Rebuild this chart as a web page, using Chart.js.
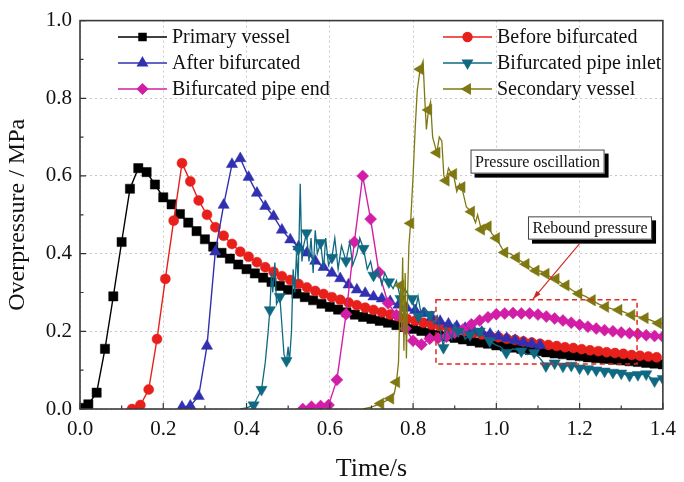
<!DOCTYPE html>
<html lang="en">
<head>
<meta charset="UTF-8">
<title>Overpressure vs time</title>
<script src="https://cdn.jsdelivr.net/npm/chart.js"></script>
<style>
  html, body { margin: 0; padding: 0; background: #fff; }
  #wrap { width: 684px; height: 482px; }
</style>
</head>
<body>
<div id="wrap"><canvas id="chartCanvas" width="684" height="482"></canvas></div>
<script>
// axis ticks
const xTicks = [0, 0.2, 0.4, 0.6, 0.8, 1.0, 1.2, 1.4];
const yTicks = [0, 0.2, 0.4, 0.6, 0.8, 1.0];
const xMinor = [0.1, 0.3, 0.5, 0.7, 0.9, 1.1, 1.3];
const yMinor = [0.1, 0.3, 0.5, 0.7, 0.9];

// Primary vessel
const primaryT = [0, 0.02, 0.04, 0.06, 0.08, 0.10, 0.12, 0.14, 0.16, 0.18, 0.20, 0.22, 0.24, 0.26, 0.28, 0.30,
  0.32, 0.34, 0.36, 0.38, 0.40, 0.42, 0.44, 0.46, 0.48, 0.50, 0.52, 0.54, 0.56, 0.58, 0.60, 0.62, 0.64, 0.66,
  0.68, 0.70, 0.72, 0.74, 0.76, 0.78, 0.80, 0.82, 0.84, 0.86, 0.88, 0.90, 0.92, 0.94, 0.96, 0.98, 1.00, 1.02,
  1.04, 1.06, 1.08, 1.10, 1.12, 1.14, 1.16, 1.18, 1.20, 1.22, 1.24, 1.26, 1.28, 1.30, 1.32, 1.34, 1.36, 1.38, 1.40];
const primaryP = [0.003, 0.012, 0.042, 0.155, 0.29, 0.43, 0.567, 0.62, 0.61, 0.578, 0.545, 0.527, 0.502, 0.48, 0.458, 0.437,
  0.418, 0.402, 0.387, 0.372, 0.36, 0.349, 0.338, 0.327, 0.317, 0.307, 0.297, 0.288, 0.28, 0.271, 0.263, 0.256, 0.249, 0.243,
  0.237, 0.232, 0.227, 0.222, 0.216, 0.211, 0.206, 0.201, 0.196, 0.191, 0.187, 0.183, 0.179, 0.175, 0.171, 0.168, 0.164, 0.161,
  0.158, 0.155, 0.152, 0.149, 0.146, 0.143, 0.141, 0.138, 0.136, 0.133, 0.131, 0.129, 0.127, 0.125, 0.123, 0.121, 0.119, 0.117, 0.115];

// Before bifurcated
const beforeT = [0.125, 0.145, 0.165, 0.185, 0.205, 0.225, 0.245, 0.265, 0.285, 0.305, 0.325, 0.345, 0.365, 0.385, 0.405,
  0.425, 0.445, 0.465, 0.485, 0.505, 0.525, 0.545, 0.565, 0.585, 0.605, 0.625, 0.645, 0.665, 0.685, 0.705, 0.725, 0.745,
  0.765, 0.785, 0.805, 0.825, 0.845, 0.865, 0.885, 0.905, 0.925, 0.945, 0.965, 0.985, 1.005, 1.025, 1.045, 1.065, 1.085,
  1.105, 1.125, 1.145, 1.165, 1.185, 1.205, 1.225, 1.245, 1.265, 1.285, 1.305, 1.325, 1.345, 1.365, 1.385];
const beforeP = [0.0, 0.01, 0.05, 0.18, 0.335, 0.485, 0.633, 0.586, 0.537, 0.50, 0.468, 0.446, 0.425, 0.405, 0.392,
  0.378, 0.365, 0.353, 0.342, 0.332, 0.322, 0.313, 0.304, 0.296, 0.288, 0.281, 0.274, 0.267, 0.261, 0.255, 0.249, 0.243,
  0.238, 0.232, 0.227, 0.222, 0.217, 0.213, 0.208, 0.204, 0.2, 0.196, 0.192, 0.188, 0.185, 0.181, 0.178, 0.174, 0.171,
  0.168, 0.165, 0.162, 0.159, 0.157, 0.154, 0.151, 0.149, 0.146, 0.144, 0.142, 0.139, 0.137, 0.135, 0.133];

// After bifurcated
const afterT = [0.245, 0.265, 0.285, 0.305, 0.325, 0.345, 0.365, 0.385, 0.405, 0.425, 0.445, 0.465, 0.485, 0.505,
  0.525, 0.545, 0.565, 0.585, 0.605, 0.625, 0.645, 0.665, 0.685, 0.705, 0.725, 0.745, 0.765, 0.785, 0.805, 0.825,
  0.845, 0.865, 0.885, 0.905, 0.925, 0.945, 0.965, 0.985, 1.005, 1.025, 1.045, 1.065, 1.085, 1.105];
const afterP = [0.005, 0.008, 0.033, 0.162, 0.405, 0.525, 0.63, 0.645, 0.597, 0.556, 0.522, 0.496, 0.461, 0.436,
  0.418, 0.402, 0.381, 0.365, 0.35, 0.336, 0.32, 0.307, 0.298, 0.289, 0.284, 0.277, 0.268, 0.26, 0.254, 0.246,
  0.236, 0.226, 0.219, 0.213, 0.208, 0.203, 0.198, 0.193, 0.187, 0.182, 0.177, 0.172, 0.168, 0.164];

// Bifurcated pipe end
const endT = [0.535, 0.556, 0.578, 0.597, 0.617, 0.639, 0.659, 0.679, 0.698, 0.718, 0.74, 0.76, 0.782, 0.80, 0.82,
  0.84, 0.86, 0.88, 0.90, 0.92, 0.94, 0.96, 0.98, 1.00, 1.02, 1.04, 1.06, 1.08, 1.10, 1.12, 1.14, 1.16, 1.18,
  1.20, 1.22, 1.24, 1.26, 1.28, 1.30, 1.32, 1.34, 1.36, 1.38, 1.40];
const endP = [0.0, 0.006, 0.008, 0.01, 0.075, 0.244, 0.43, 0.60, 0.489, 0.352, 0.272, 0.242, 0.207, 0.176, 0.166,
  0.181, 0.182, 0.186, 0.196, 0.205, 0.218, 0.228, 0.236, 0.244, 0.246, 0.247, 0.246, 0.246, 0.243, 0.238, 0.233, 0.228, 0.222,
  0.217, 0.212, 0.207, 0.203, 0.2, 0.197, 0.195, 0.193, 0.19, 0.188, 0.186];

// Bifurcated pipe inlet: noisy trace and its markers
const inletLineT = [0.385, 0.40, 0.417, 0.436, 0.445, 0.452, 0.456, 0.46, 0.463, 0.468, 0.472, 0.48, 0.486, 0.49, 0.496,
  0.50, 0.503, 0.508, 0.512, 0.516, 0.52, 0.524, 0.529, 0.533, 0.537, 0.544, 0.55, 0.555, 0.56, 0.565, 0.57, 0.578,
  0.585, 0.59, 0.597, 0.605, 0.612, 0.62, 0.628, 0.639, 0.648, 0.655, 0.665, 0.672, 0.681, 0.69, 0.698, 0.705, 0.715,
  0.725, 0.732, 0.742, 0.752, 0.76, 0.77, 0.78, 0.79, 0.798, 0.805, 0.812, 0.82, 0.828, 0.84, 0.85, 0.858, 0.866,
  0.873, 0.878, 0.885, 0.893, 0.899, 0.909, 0.918, 0.925, 0.937, 0.947, 0.96, 0.972, 0.984, 0.998, 1.01, 1.024,
  1.04, 1.06, 1.075, 1.091, 1.105, 1.119, 1.14, 1.16, 1.18, 1.20, 1.22, 1.24, 1.26, 1.28, 1.30, 1.32, 1.34, 1.36, 1.38, 1.40];
const inletLineP = [0.0, 0.003, 0.01, 0.05, 0.12, 0.2, 0.255, 0.35, 0.30, 0.377, 0.27, 0.289, 0.2, 0.14, 0.124,
  0.16, 0.12, 0.2, 0.36, 0.30, 0.4, 0.33, 0.58, 0.38, 0.42, 0.453, 0.38, 0.44, 0.35, 0.46, 0.40, 0.428,
  0.36, 0.44, 0.37, 0.39, 0.44, 0.36, 0.42, 0.381, 0.43, 0.37, 0.40, 0.44, 0.413, 0.36, 0.38, 0.344, 0.36,
  0.32, 0.35, 0.327, 0.31, 0.33, 0.284, 0.31, 0.29, 0.284, 0.25, 0.29, 0.24, 0.26, 0.243, 0.22, 0.24, 0.2,
  0.158, 0.21, 0.2, 0.18, 0.22, 0.2, 0.2, 0.18, 0.191, 0.205, 0.2, 0.185, 0.175, 0.165, 0.16, 0.145,
  0.155, 0.149, 0.14, 0.145, 0.13, 0.111, 0.118, 0.11, 0.112, 0.105, 0.103, 0.1, 0.097, 0.094, 0.092, 0.086, 0.088, 0.09, 0.072, 0.078];
const inletT = [0.417, 0.436, 0.456, 0.48, 0.496, 0.524, 0.544, 0.578, 0.605, 0.639, 0.681, 0.705, 0.742, 0.77, 0.798,
  0.813, 0.84, 0.873, 0.909, 0.937, 0.96, 0.984, 1.024, 1.06, 1.091, 1.119, 1.14, 1.16, 1.18, 1.20, 1.22, 1.24,
  1.26, 1.28, 1.30, 1.32, 1.34, 1.36, 1.38, 1.40];
const inletP = [0.01, 0.05, 0.255, 0.289, 0.124, 0.411, 0.453, 0.428, 0.39, 0.381, 0.413, 0.344, 0.327, 0.284, 0.284,
  0.238, 0.243, 0.158, 0.2, 0.191, 0.2, 0.175, 0.145, 0.149, 0.145, 0.111, 0.118, 0.11, 0.112, 0.105, 0.103, 0.1,
  0.097, 0.094, 0.092, 0.086, 0.088, 0.09, 0.072, 0.078];

// Secondary vessel: noisy trace and its markers
const secondLineT = [0.68, 0.70, 0.722, 0.746, 0.755, 0.76, 0.765, 0.768, 0.77, 0.772, 0.775, 0.778, 0.781, 0.784, 0.787,
  0.79, 0.794, 0.80, 0.805, 0.81, 0.817, 0.824, 0.828, 0.832, 0.837, 0.842, 0.847, 0.852, 0.857, 0.863, 0.869,
  0.874, 0.879, 0.885, 0.89, 0.897, 0.905, 0.912, 0.917, 0.928, 0.94, 0.95, 0.955, 0.964, 0.972, 0.98, 0.99, 1.0,
  1.01, 1.02, 1.033, 1.048, 1.06, 1.071, 1.083, 1.095, 1.107, 1.119, 1.13, 1.143, 1.155, 1.167, 1.183, 1.198,
  1.214, 1.23, 1.246, 1.262, 1.278, 1.294, 1.31, 1.325, 1.34, 1.357, 1.372, 1.389, 1.40];
const secondLineP = [0.0, 0.005, 0.014, 0.027, 0.04, 0.069, 0.12, 0.25, 0.318, 0.2, 0.39, 0.15, 0.35, 0.13, 0.3,
  0.42, 0.478, 0.6, 0.72, 0.82, 0.875, 0.896, 0.8, 0.72, 0.77, 0.79, 0.7, 0.68, 0.66, 0.7, 0.69,
  0.6, 0.588, 0.62, 0.61, 0.605, 0.56, 0.58, 0.571, 0.52, 0.508, 0.48, 0.5, 0.462, 0.46, 0.47, 0.45, 0.44,
  0.42, 0.403, 0.4, 0.39, 0.38, 0.373, 0.365, 0.356, 0.355, 0.348, 0.34, 0.335, 0.325, 0.318, 0.305, 0.297,
  0.29, 0.28, 0.27, 0.263, 0.258, 0.255, 0.248, 0.242, 0.238, 0.234, 0.228, 0.221, 0.22];
const secondT = [0.722, 0.746, 0.76, 0.77, 0.794, 0.817, 0.837, 0.857, 0.879, 0.897, 0.917, 0.94, 0.964, 0.98, 1.0,
  1.02, 1.048, 1.071, 1.095, 1.119, 1.143, 1.167, 1.198, 1.23, 1.262, 1.294, 1.325, 1.357, 1.389];
const secondP = [0.014, 0.027, 0.069, 0.318, 0.478, 0.875, 0.77, 0.66, 0.588, 0.605, 0.571, 0.508, 0.462, 0.47, 0.44,
  0.403, 0.39, 0.373, 0.356, 0.348, 0.335, 0.318, 0.297, 0.28, 0.263, 0.255, 0.242, 0.234, 0.221];

// rebound region box and callouts (data units)
const reboundBox = [0.855, 1.338, 0.116, 0.281];

const FONT = "'Liberation Serif', 'Times New Roman', serif";
const C = {
  black: '#000000', red: '#e8201c', blue: '#3030b0',
  magenta: '#d21ea6', teal: '#0f6982', olive: '#7f7812'
};

function pts(t, p) {
  return t.map((x, i) => ({ x: x, y: p[i] }));
}

function series(label, t, p, color, style, rot, r, order) {
  return {
    label: label, data: pts(t, p), borderColor: color, backgroundColor: color,
    borderWidth: 1.4, pointStyle: style, rotation: rot, pointRadius: r, pointHoverRadius: r,
    pointBorderWidth: 0.5, showLine: true, order: order
  };
}

const legendItems = [
  { label: 'Primary vessel', color: C.black, style: 'rect', rot: 0, r: 5, col: 0, row: 0 },
  { label: 'After bifurcated', color: C.blue, style: 'triangle', rot: 0, r: 5.5, col: 0, row: 1 },
  { label: 'Bifurcated pipe end', color: C.magenta, style: 'rectRot', rot: 0, r: 5, col: 0, row: 2 },
  { label: 'Before bifurcated', color: C.red, style: 'circle', rot: 0, r: 4.5, col: 1, row: 0 },
  { label: 'Bifurcated pipe inlet', color: C.teal, style: 'triangle', rot: 180, r: 5.5, col: 1, row: 1 },
  { label: 'Secondary vessel', color: C.olive, style: 'triangle', rot: 270, r: 5.5, col: 1, row: 2 }
];

const decorPlugin = {
  id: 'decor',
  afterDraw(chart) {
    const ctx = chart.ctx;
    const a = chart.chartArea;
    const xs = chart.scales.x, ys = chart.scales.y;
    ctx.save();

    // inward ticks
    ctx.strokeStyle = '#333';
    ctx.lineWidth = 1.2;
    ctx.beginPath();
    xTicks.forEach(v => { const px = xs.getPixelForValue(v); ctx.moveTo(px, a.bottom); ctx.lineTo(px, a.bottom - 6); });
    xMinor.forEach(v => { const px = xs.getPixelForValue(v); ctx.moveTo(px, a.bottom); ctx.lineTo(px, a.bottom - 3.5); });
    yTicks.forEach(v => { const py = ys.getPixelForValue(v); ctx.moveTo(a.left, py); ctx.lineTo(a.left + 6, py); });
    yMinor.forEach(v => { const py = ys.getPixelForValue(v); ctx.moveTo(a.left, py); ctx.lineTo(a.left + 3.5, py); });
    ctx.stroke();

    // frame
    ctx.strokeStyle = '#3a3a3a';
    ctx.lineWidth = 1.6;
    ctx.strokeRect(a.left, a.top, a.right - a.left, a.bottom - a.top);

    // legend
    ctx.font = '20px ' + FONT;
    ctx.textBaseline = 'middle';
    ctx.textAlign = 'left';
    legendItems.forEach(it => {
      const x0 = it.col === 0 ? 118 : 443;
      const y = 37 + it.row * 26;
      ctx.strokeStyle = it.color;
      ctx.fillStyle = it.color;
      ctx.lineWidth = 1.4;
      ctx.beginPath();
      ctx.moveTo(x0, y);
      ctx.lineTo(x0 + 49, y);
      ctx.stroke();
      Chart.helpers.drawPoint(ctx, { pointStyle: it.style, rotation: it.rot, radius: it.r, borderWidth: 0.5 }, x0 + 24.5, y);
      ctx.fillStyle = '#111';
      ctx.fillText(it.label, x0 + 54, y + 1);
    });

    // rebound dashed box
    const bx0 = xs.getPixelForValue(reboundBox[0]), bx1 = xs.getPixelForValue(reboundBox[1]);
    const by0 = ys.getPixelForValue(reboundBox[3]), by1 = ys.getPixelForValue(reboundBox[2]);
    ctx.strokeStyle = '#e02a22';
    ctx.lineWidth = 1.5;
    ctx.setLineDash([5, 3.5]);
    ctx.strokeRect(bx0, by0, bx1 - bx0, by1 - by0);
    ctx.setLineDash([]);

    // callout boxes
    function callout(text, cx0, cy0, cx1, cy1) {
      const x0 = xs.getPixelForValue(cx0), x1 = xs.getPixelForValue(cx1);
      const y0 = ys.getPixelForValue(cy0), y1 = ys.getPixelForValue(cy1);
      ctx.fillStyle = '#000';
      ctx.fillRect(x0 + 4, y0 + 4, x1 - x0, y1 - y0);
      ctx.fillStyle = '#fff';
      ctx.fillRect(x0, y0, x1 - x0, y1 - y0);
      ctx.strokeStyle = '#444';
      ctx.lineWidth = 1;
      ctx.strokeRect(x0 + 0.5, y0 + 0.5, x1 - x0 - 1, y1 - y0 - 1);
      ctx.fillStyle = '#111';
      ctx.font = '16px ' + FONT;
      ctx.textAlign = 'center';
      ctx.textBaseline = 'middle';
      ctx.fillText(text, (x0 + x1) / 2, (y0 + y1) / 2 + 1);
    }
    callout('Pressure oscillation', 0.938, 0.668, 1.26, 0.606);
    callout('Rebound pressure', 1.076, 0.496, 1.374, 0.436);

    // arrow to rebound box
    const ax0 = xs.getPixelForValue(1.2), ay0 = ys.getPixelForValue(0.426);
    const ax1 = xs.getPixelForValue(1.088), ay1 = ys.getPixelForValue(0.283);
    ctx.strokeStyle = '#d0261e';
    ctx.fillStyle = '#d0261e';
    ctx.lineWidth = 1.1;
    ctx.beginPath();
    ctx.moveTo(ax0, ay0);
    ctx.lineTo(ax1, ay1);
    ctx.stroke();
    const ang = Math.atan2(ay1 - ay0, ax1 - ax0);
    ctx.beginPath();
    ctx.moveTo(ax1, ay1);
    ctx.lineTo(ax1 - 9 * Math.cos(ang - 0.3), ay1 - 9 * Math.sin(ang - 0.3));
    ctx.lineTo(ax1 - 9 * Math.cos(ang + 0.3), ay1 - 9 * Math.sin(ang + 0.3));
    ctx.closePath();
    ctx.fill();

    ctx.restore();
  }
};

const inletLine = {
  label: 'inlet trace', data: pts(inletLineT, inletLineP), borderColor: C.teal, backgroundColor: C.teal,
  borderWidth: 1.3, pointRadius: 0, showLine: true, order: 2
};
const inletMarks = {
  label: 'Bifurcated pipe inlet', data: pts(inletT, inletP), borderColor: C.teal, backgroundColor: C.teal,
  pointStyle: 'triangle', rotation: 180, pointRadius: 6.5, pointBorderWidth: 0.5, showLine: false, order: 2
};
const secondLine = {
  label: 'secondary trace', data: pts(secondLineT, secondLineP), borderColor: C.olive, backgroundColor: C.olive,
  borderWidth: 1.3, pointRadius: 0, showLine: true, order: 1
};
const secondMarks = {
  label: 'Secondary vessel', data: pts(secondT, secondP), borderColor: C.olive, backgroundColor: C.olive,
  pointStyle: 'triangle', rotation: 270, pointRadius: 6.5, pointBorderWidth: 0.5, showLine: false, order: 1
};

new Chart(document.getElementById('chartCanvas'), {
  type: 'scatter',
  data: {
    datasets: [
      series('Primary vessel', primaryT, primaryP, C.black, 'rect', 0, 6.5, 6),
      series('Before bifurcated', beforeT, beforeP, C.red, 'circle', 0, 5, 5),
      series('After bifurcated', afterT, afterP, C.blue, 'triangle', 0, 6.5, 4),
      series('Bifurcated pipe end', endT, endP, C.magenta, 'rectRot', 0, 6, 3),
      inletLine, inletMarks, secondLine, secondMarks
    ]
  },
  options: {
    responsive: false,
    animation: false,
    devicePixelRatio: 1,
    layout: { padding: { top: 14, right: 16, left: 0, bottom: 0 } },
    plugins: { legend: { display: false }, tooltip: { enabled: false } },
    scales: {
      x: {
        type: 'linear', min: 0, max: 1.4,
        afterBuildTicks: s => { s.ticks = xTicks.map(v => ({ value: v })); },
        afterFit: s => { s.height = 73; },
        grid: { color: '#c8c8c8', lineWidth: 1, drawTicks: false },
        border: { display: false, dash: [2, 3] },
        ticks: { color: '#111', padding: 8, font: { family: FONT, size: 21 }, callback: v => v.toFixed(1) },
        title: { display: true, text: 'Time/s', color: '#111', font: { family: FONT, size: 26, lineHeight: 1 }, padding: { top: 0, bottom: 0 } }
      },
      y: {
        type: 'linear', min: 0, max: 1,
        afterBuildTicks: s => { s.ticks = yTicks.map(v => ({ value: v })); },
        afterFit: s => { s.width = 80; },
        grid: { color: '#c8c8c8', lineWidth: 1, drawTicks: false },
        border: { display: false, dash: [2, 3] },
        ticks: { color: '#111', padding: 8, font: { family: FONT, size: 21 }, callback: v => v.toFixed(1) },
        title: { display: true, text: 'Overpressure / MPa', color: '#111', font: { family: FONT, size: 24, lineHeight: 1.2 }, padding: { top: 3, bottom: 0 } }
      }
    }
  },
  plugins: [decorPlugin]
});
</script>
</body>
</html>
